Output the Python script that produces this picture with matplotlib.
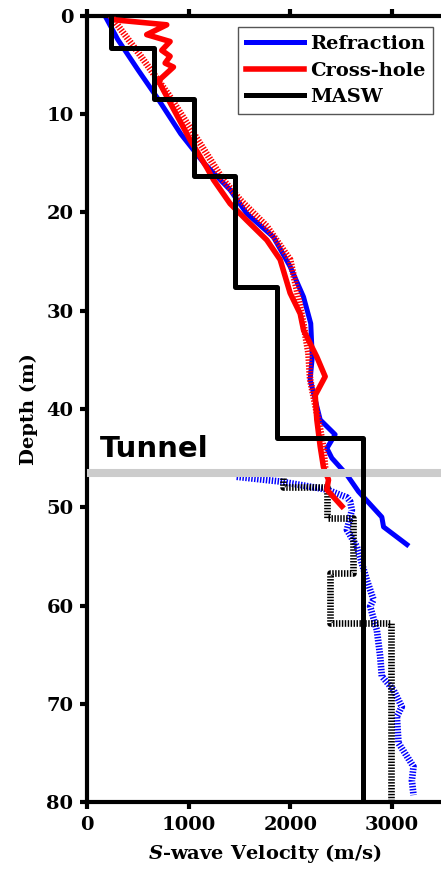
import matplotlib
matplotlib.use("Agg")
import matplotlib.pyplot as plt

# S-wave velocity profiles (m/s) vs depth (m)
refr_v = [175, 300, 500, 700, 920, 1150, 1406, 1570, 1833, 1997, 2129, 2200,
          2215, 2194, 2293, 2440, 2359, 2408, 2556, 2670, 2900, 2917, 3147]
refr_d = [0, 2.4, 5.5, 8.5, 12, 15, 17.7, 20.1, 22.5, 25.5, 28.6, 31.3,
          34.7, 37.0, 41.1, 42.6, 44.0, 45.0, 46.7, 48.4, 51.0, 52.0, 53.8]

refr2_v = [1471, 1915, 2358, 2556, 2588, 2605, 2556, 2654, 2752, 2818, 2785,
           2851, 2884, 2900, 3015, 3097, 3048, 3064, 3212, 3196, 3212]
refr2_d = [46.9, 47.4, 48.2, 49.0, 49.4, 50.3, 52.3, 54.0, 57.4, 59.4, 60.1,
           62.5, 65.2, 67.2, 68.6, 70.3, 71.3, 74.0, 76.4, 77.8, 79.3]

xhole_v = [273, 782, 585, 815, 733, 815, 766, 848, 700, 850, 1012, 1180, 1244,
           1406, 1570, 1767, 1899, 1997, 2096, 2130, 2260, 2342, 2244, 2260,
           2293, 2325, 2375, 2358, 2507]
xhole_d = [0.4, 0.9, 1.9, 2.6, 3.5, 4.1, 4.8, 5.2, 6.6, 9.5, 12.6, 15.5, 16.7,
           19.1, 20.8, 22.8, 24.8, 28.2, 30.3, 32.0, 34.7, 36.7, 38.6, 41.1,
           43.8, 45.9, 47.2, 48.2, 49.9]

xhole2_v = [230, 520, 800, 1050, 1340, 1504, 1767, 1997, 2063, 2128, 2177,
            2194, 2227, 2293, 2325, 2342]
xhole2_d = [0, 4, 8, 12, 16.7, 18.7, 21.4, 24.8, 27.9, 31.3, 34.3, 37.0,
            38.7, 42.1, 44.0, 46.0]

masw_v = [230, 230, 657, 657, 1054, 1054, 1455, 1455, 1866, 1866, 2713, 2713]
masw_d = [0, 3.3, 3.3, 8.5, 8.5, 16.3, 16.3, 27.6, 27.6, 43.0, 43.0, 80]

masw2_v = [1931, 1931, 2358, 2358, 2621, 2621, 2391, 2391, 2989, 2989]
masw2_d = [47.0, 47.9, 47.9, 51.1, 51.1, 56.7, 56.7, 61.8, 61.8, 80]

tunnel_depth = 46.5

plt.rcParams['font.family'] = 'DejaVu Serif'
plt.rcParams['font.weight'] = 'bold'
plt.rcParams['axes.labelweight'] = 'bold'
plt.rcParams['mathtext.fontset'] = 'dejavuserif'

fig = plt.figure(figsize=(4.41, 8.77), dpi=100)
ax = fig.add_axes([0.198, 0.0855, 0.806, 0.8963])

dot = (0, (0.22, 0.22))
ax.plot(refr_v, refr_d, color='blue', lw=3.6, label='Refraction', zorder=2)
ax.plot(refr2_v, refr2_d, color='blue', lw=4.8, ls=dot, zorder=2)
ax.plot(masw2_v, masw2_d, color='black', lw=4.8, ls=dot, zorder=3)
ax.plot(xhole_v, xhole_d, color='red', lw=4.0, label='Cross-hole', zorder=4)
ax.plot(xhole2_v, xhole2_d, color='red', lw=4.8, ls=dot, zorder=4)
ax.axhline(tunnel_depth, color='#cccccc', lw=5.8, zorder=5)
ax.plot(masw_v, masw_d, color='black', lw=3.6, label='MASW', zorder=6)

ax.text(125, 44.9, 'Tunnel', family='DejaVu Sans', fontweight='bold',
        fontsize=21, va='baseline', ha='left')

ax.set_xlim(0, 3500)
ax.set_ylim(80, 0)
ax.set_xticks([0, 1000, 2000, 3000])
ax.set_yticks(range(0, 81, 10))
for s in ax.spines.values():
    s.set_linewidth(3)
ax.tick_params(direction='out', length=5, width=3, labelsize=14, pad=5,
               top=True, right=True)

ax.set_xlabel(r'$\mathbfit{S}$-wave Velocity (m/s)', fontsize=14, labelpad=6)
ax.set_ylabel('Depth (m)', fontsize=14, labelpad=6)

leg = ax.legend(loc='upper right', bbox_to_anchor=(433 / 441, 1 - 27 / 877),
                bbox_transform=fig.transFigure, borderaxespad=0,
                fontsize=14, handlelength=3.0, handletextpad=0.3,
                labelspacing=0.45, fancybox=False, framealpha=1)
leg.get_frame().set_edgecolor('#555555')
leg.get_frame().set_linewidth(1.0)

fig.savefig('out.png', dpi=100)
